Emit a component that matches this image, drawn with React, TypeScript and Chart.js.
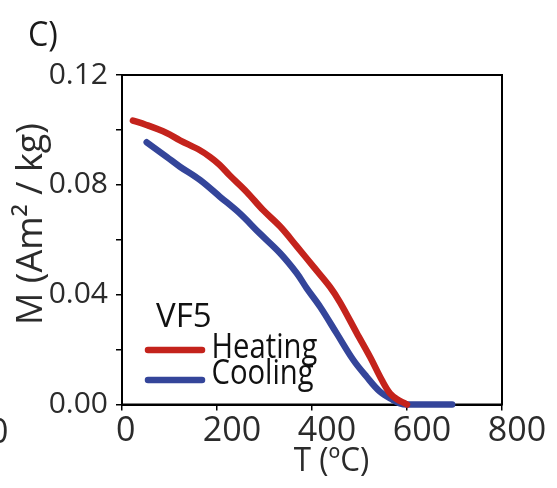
import React, { useEffect, useRef } from "react";
import { Chart, registerables } from "chart.js";

Chart.register(...registerables);

const heatingT = [23, 50, 94, 122, 164, 185, 205, 227, 262, 297, 333, 368, 403, 438, 459, 494, 522, 547, 564, 580, 595, 600];
const heatingM = [0.1034, 0.1019, 0.0989, 0.0962, 0.0926, 0.0902, 0.0874, 0.0834, 0.0775, 0.0708, 0.0648, 0.0576, 0.0502, 0.0428, 0.0372, 0.0261, 0.0174, 0.0089, 0.0041, 0.0018, 0.0005, 0.0];

const coolingT = [52, 94, 122, 164, 206, 248, 290, 333, 368, 389, 417, 452, 487, 515, 543, 571, 585, 600, 695];
const coolingM = [0.0955, 0.0902, 0.0866, 0.0818, 0.0757, 0.0696, 0.0623, 0.0551, 0.0478, 0.0423, 0.0356, 0.0259, 0.0162, 0.0101, 0.0047, 0.0016, 0.0004, 0.0, 0.0];

const seriesLabels = ["Heating", "Cooling"];
const legendTitle = "VF5";
const panelLabel = "C)";
const xTitle = "T (\u00BAC)";
const yTitle = "M (Am\u00B2 / kg)";
const xTicks = [0, 200, 400, 600, 800];
const yTickLabels = ["0.00", "0.04", "0.08", "0.12"];

const RED = "#c4231c";
const BLUE = "#34459a";
const FONT = "'Open Sans', 'Noto Sans', sans-serif";

const overlay = {
  id: "overlay",
  beforeDatasetsDraw(chart: any) {
    const { ctx, chartArea: a } = chart;
    ctx.save();
    ctx.strokeStyle = "#000";
    ctx.lineWidth = 2;
    ctx.strokeRect(a.left, a.top, a.right - a.left, a.bottom - a.top);
    ctx.restore();
  },
  afterDraw(chart: any) {
    const { ctx } = chart;
    const drawText = (t: string, x: number, y: number, size: number, color: string, sx = 1, align: CanvasTextAlign = "left") => {
      ctx.save();
      ctx.font = `${size}px ${FONT}`;
      ctx.fillStyle = color;
      ctx.textAlign = align;
      ctx.textBaseline = "alphabetic";
      ctx.translate(x, y);
      ctx.scale(sx, 1);
      ctx.fillText(t, 0, 0);
      ctx.restore();
    };
    drawText(panelLabel, 28, 46, 34, "#1a1a1a", 0.95);
    drawText("0", -11, 443, 34, "#2b2b2b");
    drawText(xTitle, 331.5, 470.5, 33, "#2b2b2b", 0.95, "center");
    ctx.save();
    ctx.font = `36px ${FONT}`;
    ctx.fillStyle = "#2b2b2b";
    ctx.textAlign = "center";
    ctx.textBaseline = "alphabetic";
    ctx.translate(41.5, 224);
    ctx.rotate(-Math.PI / 2);
    ctx.fillText(yTitle, 0, 0);
    ctx.restore();
    drawText(legendTitle, 156, 326.5, 33, "#111", 1);
    const ds = chart.data.datasets;
    const rows = [350, 380];
    const bases = [358.3, 384.3];
    ds.forEach((d: any, i: number) => {
      ctx.save();
      ctx.strokeStyle = d.borderColor;
      ctx.lineWidth = 6.5;
      ctx.lineCap = "round";
      ctx.beginPath();
      ctx.moveTo(148, rows[i]);
      ctx.lineTo(202, rows[i]);
      ctx.stroke();
      ctx.restore();
      drawText(d.label, 211.5, bases[i], 34, "#111", 0.86);
    });
  },
};

export default function App() {
  const ref = useRef<HTMLCanvasElement>(null);
  useEffect(() => {
    let chart: any = null;
    let cancelled = false;
    const make = () => {
      if (cancelled || !ref.current) return;
      chart = new Chart(ref.current, {
        type: "line",
        data: {
          datasets: [
            {
              label: seriesLabels[0],
              data: heatingT.map((t, i) => ({ x: t, y: heatingM[i] })),
              borderColor: RED,
              backgroundColor: RED,
              borderWidth: 6.5,
              pointRadius: 0,
              tension: 0.35,
              borderCapStyle: "round",
              borderJoinStyle: "round",
              clip: false as any,
            },
            {
              label: seriesLabels[1],
              data: coolingT.map((t, i) => ({ x: t, y: coolingM[i] })),
              borderColor: BLUE,
              backgroundColor: BLUE,
              borderWidth: 6.5,
              pointRadius: 0,
              tension: 0.35,
              borderCapStyle: "round",
              borderJoinStyle: "round",
              clip: false as any,
            },
          ],
        },
        options: {
          animation: false,
          responsive: false,
          layout: { padding: { top: 75, right: 55, left: 0, bottom: 0 } },
          plugins: { legend: { display: false }, tooltip: { enabled: false } },
          scales: {
            x: {
              type: "linear",
              min: xTicks[0],
              max: xTicks[xTicks.length - 1],
              afterBuildTicks: (s: any) => {
                s.ticks = xTicks.map((v) => ({ value: v }));
              },
              afterFit: (s: any) => {
                s.height = 83.5;
              },
              grid: { drawOnChartArea: false, drawTicks: true, tickLength: 6, color: "#000", lineWidth: 1.5 },
              border: { display: true, color: "#000", width: 2 },
              ticks: {
                color: "#2b2b2b",
                font: { size: 34, family: FONT },
                padding: 0,
                labelOffset: 15,
                maxRotation: 0,
                autoSkip: false,
                callback: (v: any) => (Number(v) === 0 ? "0\u2002\u2009" : String(v)),
              },
            },
            y: {
              type: "linear",
              min: 0,
              max: 0.12,
              afterFit: (s: any) => {
                s.width = 122;
              },
              grid: { drawOnChartArea: false, drawTicks: true, tickLength: 6, color: "#000", lineWidth: 1.5 },
              border: { display: true, color: "#000", width: 2 },
              ticks: {
                stepSize: 0.02,
                color: "#2b2b2b",
                font: { size: 30, family: FONT },
                padding: 8,
                autoSkip: false,
                callback: (v: any) => {
                  const k = Math.round(Number(v) * 100);
                  return k % 4 === 0 ? yTickLabels[k / 4] : "";
                },
              },
            },
          },
        },
        plugins: [overlay],
      } as any);
    };
    const fontsP = (document as any).fonts
      ? Promise.all([
          (document as any).fonts.load(`34px 'Open Sans'`),
          (document as any).fonts.load(`30px 'Open Sans'`),
        ]).catch(() => null)
      : Promise.resolve(null);
    Promise.race([fontsP, new Promise((r) => setTimeout(r, 800))]).then(make);
    return () => {
      cancelled = true;
      if (chart) chart.destroy();
    };
  }, []);
  return (
    <div style={{ position: "absolute", left: 0, top: 0, width: 557, height: 488, background: "#fff" }}>
      <canvas ref={ref} width={557} height={488} style={{ width: 557, height: 488, display: "block" }} />
    </div>
  );
}
